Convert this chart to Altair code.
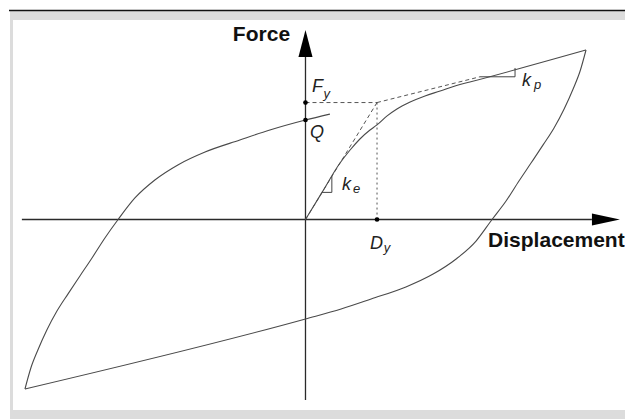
import altair as alt
import pandas as pd

# Idealised bilinear hysteresis loop of an isolator.
# Displacement and force are normalised so that the loop tips sit at +/-100.

# Reloading branch (from the negative tip up through Q)
upper_x = [-100, -97.9, -95.4, -92.2, -88.6, -84.7, -80.4, -76.1, -71.5, -66.8,
           -60.8, -53.7, -45.5, -35.8, -23.4, -12.7, 0, 8.7]
upper_y = [-100, -87.6, -77.0, -65.2, -54.0, -44.0, -33.3, -22.7, -10.9, 0,
           12.7, 23.3, 32.2, 39.8, 46.9, 52.8, 58.7, 62.2]

# Unloading branch (from the negative tip back to the positive tip)
lower_x = [-100, 0, 12.7, 23.4, 35.8, 45.5, 53.7, 60.8, 66.5,
           71.5, 76.1, 80.4, 84.7, 88.6, 92.2, 95.4, 97.9, 100]
lower_y = [-100, -58.7, -52.8, -46.9, -39.8, -32.2, -23.3, -12.7, 0,
           10.9, 22.7, 33.3, 44.0, 54.0, 65.2, 77.0, 87.6, 100]

# Initial loading curve from the origin to the positive tip
init_x = [0, 5.9, 12.3, 15.9, 19.4, 23.0, 25.5, 29.1, 32.6, 37.3, 42.6, 48.0, 53.3, 58.6, 100]
init_y = [0, 16.0, 33.3, 41.0, 47.5, 52.8, 55.8, 61.1, 65.2, 69.3, 72.9, 75.8, 78.8, 81.1, 100]

# Characteristic values
Q = 58.7      # characteristic strength (force intercept)
Fy = 69.0     # yield force
Dy = 25.5     # yield displacement
kp_end_x = 62.2
kp_end_y = 84.2

# Stiffness triangles
ke_tri_x = [5.9, 9.4, 9.4]
ke_tri_y = [16.0, 16.0, 25.5]
kp_tri_x = [62.2, 74.7, 74.7]
kp_tri_y = [84.2, 84.2, 89.4]

X_DOMAIN = [-108.9, 113.9]
Y_DOMAIN = [-117.7, 129.5]

xs = alt.Scale(domain=X_DOMAIN, nice=False, zero=False)
ys = alt.Scale(domain=Y_DOMAIN, nice=False, zero=False)


def series(xv, yv, name):
    return pd.DataFrame({"x": xv, "y": yv, "i": range(len(xv)), "s": name})


def enc(chart):
    return chart.encode(
        x=alt.X("x:Q", scale=xs, axis=None),
        y=alt.Y("y:Q", scale=ys, axis=None),
    )


one = pd.DataFrame({"k": [0]})

# Page frame: grey border and dark top rule
frame_grey = alt.Chart(one).mark_rect(color="#dcdcdc").encode(
    x=alt.value(10), x2=alt.value(625), y=alt.value(11), y2=alt.value(419)
)
frame_white = alt.Chart(one).mark_rect(color="white").encode(
    x=alt.value(13), x2=alt.value(625), y=alt.value(20), y2=alt.value(410)
)
frame_top = alt.Chart(one).mark_rule(color="#111111", strokeWidth=1.6).encode(
    x=alt.value(9), x2=alt.value(625), y=alt.value(10.5)
)

# Axes
axes_df = pd.DataFrame({
    "x": [-101.1, 0], "x2": [102.1, 0],
    "y": [0, -106.5], "y2": [0, 95.9],
})
axes = alt.Chart(axes_df).mark_rule(color="#2a2a2a", strokeWidth=1.3).encode(
    x=alt.X("x:Q", scale=xs, axis=None), x2="x2",
    y=alt.Y("y:Q", scale=ys, axis=None), y2="y2",
)
arrow_right = enc(alt.Chart(pd.DataFrame({"x": [107.1], "y": [0]})).mark_point(
    shape="M1,0L-1,0.43L-1,-0.43Z", size=784, filled=True, color="black", opacity=1
))
arrow_up = enc(alt.Chart(pd.DataFrame({"x": [0], "y": [103.8]})).mark_point(
    shape="M0,-1L0.52,1L-0.52,1Z", size=729, filled=True, color="black", opacity=1
))

# Loop curves
loop_df = pd.concat([
    series(upper_x, upper_y, "upper"),
    series(lower_x, lower_y, "lower"),
    series(init_x, init_y, "initial"),
])
loop = enc(alt.Chart(loop_df).mark_line(
    color="#4a4a4a", strokeWidth=1.1, interpolate="monotone")).encode(
    detail="s:N", order="i:Q"
)

# Dashed construction lines
dash_df = pd.concat([
    series([0, Dy], [Fy, Fy], "fy"),
    series([0, Dy], [0, Fy], "ke"),
    series([Dy, kp_end_x], [Fy, kp_end_y], "kp"),
])
dashed = enc(alt.Chart(dash_df).mark_line(
    color="#555555", strokeWidth=1, strokeDash=[4, 3])).encode(detail="s:N", order="i:Q")
dotted = enc(alt.Chart(series([Dy, Dy], [Fy, 0], "dy")).mark_line(
    color="#555555", strokeWidth=1, strokeDash=[2, 3])).encode(order="i:Q")

# Stiffness triangles
tri_df = pd.concat([
    series(ke_tri_x, ke_tri_y, "ke"),
    series(kp_tri_x, kp_tri_y, "kp"),
])
tris = enc(alt.Chart(tri_df).mark_line(color="#444444", strokeWidth=1)).encode(
    detail="s:N", order="i:Q"
)

# Marker dots
dots = enc(alt.Chart(pd.DataFrame({"x": [0, 0, Dy], "y": [Fy, Q, 0]})).mark_circle(
    size=22, color="black", opacity=1
))

# Axis titles
title_df = pd.DataFrame({
    "x": [-5.5, 65.1], "y": [108.8, -12.7],
    "t": ["Force", "Displacement"],
})
titles_force = enc(alt.Chart(title_df.iloc[[0]]).mark_text(
    font="Liberation Sans", fontWeight="bold", fontSize=21, align="right",
    baseline="middle", color="#111111")).encode(text="t:N")
titles_disp = enc(alt.Chart(title_df.iloc[[1]]).mark_text(
    font="Liberation Sans", fontWeight="bold", fontSize=21, align="left",
    baseline="middle", color="#111111")).encode(text="t:N")

# Symbol labels and their subscripts
main_df = pd.DataFrame({
    "x": [2.3, 1.6, 23.0, 13.0, 77.2],
    "y": [75.2, 48.1, -17.4, 17.4, 78.8],
    "t": ["F", "Q", "D", "k", "k"],
})
sub_df = pd.DataFrame({
    "x": [6.4, 27.9, 16.9, 81.5],
    "y": [71.6, -19.2, 15.6, 77.0],
    "t": ["y", "y", "e", "p"],
})
main_labels = enc(alt.Chart(main_df).mark_text(
    font="Liberation Sans", fontStyle="italic", fontSize=18, align="left",
    baseline="alphabetic", color="#222222")).encode(text="t:N")
sub_labels = enc(alt.Chart(sub_df).mark_text(
    font="Liberation Sans", fontStyle="italic", fontSize=13, align="left",
    baseline="alphabetic", color="#222222")).encode(text="t:N")

chart = alt.layer(
    frame_grey, frame_white, frame_top,
    axes, arrow_right, arrow_up,
    dashed, dotted, loop, tris, dots,
    titles_force, titles_disp, main_labels, sub_labels,
).properties(
    width=625, height=419, padding=0,
    autosize=alt.AutoSizeParams(type="none"),
    background="white",
).configure_view(stroke=None)

chart.save("out.html", embed_options={"renderer": "svg", "actions": False})
